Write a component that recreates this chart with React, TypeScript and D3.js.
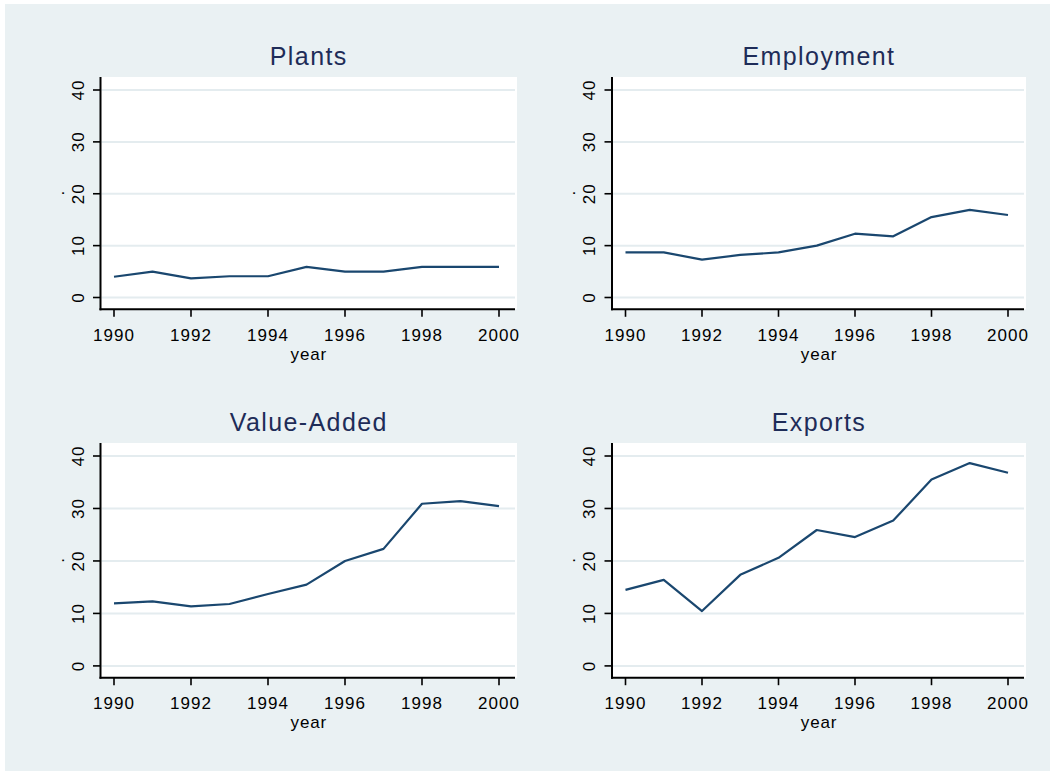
import React from "react";
import * as d3 from "d3";

const years = [1990, 1991, 1992, 1993, 1994, 1995, 1996, 1997, 1998, 1999, 2000];
const plants = [4.0, 5.0, 3.7, 4.1, 4.1, 5.9, 5.0, 5.0, 5.9, 5.9, 5.9];
const employment = [8.7, 8.7, 7.3, 8.2, 8.7, 10.0, 12.3, 11.8, 15.5, 16.9, 15.9];
const valueAdded = [11.9, 12.3, 11.35, 11.8, 13.7, 15.5, 20.0, 22.3, 30.9, 31.4, 30.45];
const exportsData = [14.5, 16.4, 10.45, 17.35, 20.6, 25.9, 24.55, 27.7, 35.5, 38.65, 36.8];
const panelTitles = ["Plants", "Employment", "Value-Added", "Exports"];
const xTicks = [1990, 1992, 1994, 1996, 1998, 2000];
const yTicks = [0, 10, 20, 30, 40];
const xTitle = "year";
const yTitle = ".";

const series = [plants, employment, valueAdded, exportsData];

const BG = "#EAF1F3";
const GRID = "#E4ECEF";
const LINE = "#1A476F";
const TITLE = "#1E2C58";
const FONT = "'Liberation Sans', Arial, Helvetica, sans-serif";

// layout of each panel: plot region (left/right = white area, top = white top, bottom = x axis line)
const layouts = [
  { left: 100.5, right: 517, top: 77, bottom: 309.3 },
  { left: 612, right: 1026, top: 77, bottom: 309.3 },
  { left: 100.5, right: 517, top: 443, bottom: 677.7 },
  { left: 612, right: 1026, top: 443, bottom: 677.7 },
];

function Panel({ idx }: { idx: number }) {
  const L = layouts[idx];
  const values = series[idx];
  const width = L.right - L.left;
  const x = d3
    .scaleLinear()
    .domain([1990, 2000])
    .range([L.left + 13.5, L.left + 13.5 + (width - 31.5)]);
  const y = d3
    .scaleLinear()
    .domain([0, 40])
    .range([L.bottom - 11.8, L.top + 13]);
  const line = d3
    .line<number>()
    .x((_, i) => x(years[i]))
    .y((d) => y(d));
  const cx = (L.left + L.right) / 2;
  const cy = (L.top + L.bottom) / 2;
  return (
    <g>
      <rect x={L.left} y={L.top} width={width} height={L.bottom - L.top} fill="#ffffff" />
      {yTicks.map((t) => (
        <line
          key={"g" + t}
          x1={L.left + 1}
          x2={L.right - 2}
          y1={y(t)}
          y2={y(t)}
          stroke={GRID}
          strokeWidth={2}
        />
      ))}
      <path d={line(values) || ""} fill="none" stroke={LINE} strokeWidth={2.2} strokeLinejoin="round" />
      {/* y axis */}
      <line x1={L.left} x2={L.left} y1={L.top} y2={L.bottom + 1} stroke="#000" strokeWidth={2} />
      {yTicks.map((t) => (
        <g key={"y" + t}>
          <line x1={L.left - 7.5} x2={L.left} y1={y(t)} y2={y(t)} stroke="#000" strokeWidth={1.6} />
          <text
            transform={`translate(${L.left - 17},${y(t)}) rotate(-90)`}
            textAnchor="middle"
            fontSize={17}
            letterSpacing={1}
            fontFamily={FONT}
            fill="#000"
          >
            {t}
          </text>
        </g>
      ))}
      <text
        transform={`translate(${L.left - 37},${cy}) rotate(-90)`}
        textAnchor="middle"
        fontSize={17}
        fontFamily={FONT}
        fill="#000"
      >
        {yTitle}
      </text>
      {/* x axis */}
      <line x1={L.left - 1} x2={L.right - 2} y1={L.bottom} y2={L.bottom} stroke="#000" strokeWidth={2} />
      {xTicks.map((t) => (
        <g key={"x" + t}>
          <line x1={x(t)} x2={x(t)} y1={L.bottom} y2={L.bottom + 7.5} stroke="#000" strokeWidth={1.6} />
          <text
            x={x(t)}
            y={L.bottom + 31.4}
            textAnchor="middle"
            fontSize={17}
            letterSpacing={1}
            fontFamily={FONT}
            fill="#000"
          >
            {t}
          </text>
        </g>
      ))}
      <text x={cx} y={L.bottom + 50.7} textAnchor="middle" fontSize={17} letterSpacing={0.8} fontFamily={FONT} fill="#000">
        {xTitle}
      </text>
      <text
        x={cx}
        y={L.top - 12}
        textAnchor="middle"
        fontSize={25}
        letterSpacing={1.4}
        fontFamily={FONT}
        fill={TITLE}
      >
        {panelTitles[idx]}
      </text>
    </g>
  );
}

export default function App() {
  return (
    <svg
      width={1050}
      height={771}
      style={{ position: "absolute", left: 0, top: 0, display: "block" }}
    >
      <rect x={0} y={0} width={1050} height={771} fill="#ffffff" />
      <rect x={5} y={4} width={1045} height={767} fill={BG} />
      {[0, 1, 2, 3].map((i) => (
        <Panel key={i} idx={i} />
      ))}
    </svg>
  );
}
